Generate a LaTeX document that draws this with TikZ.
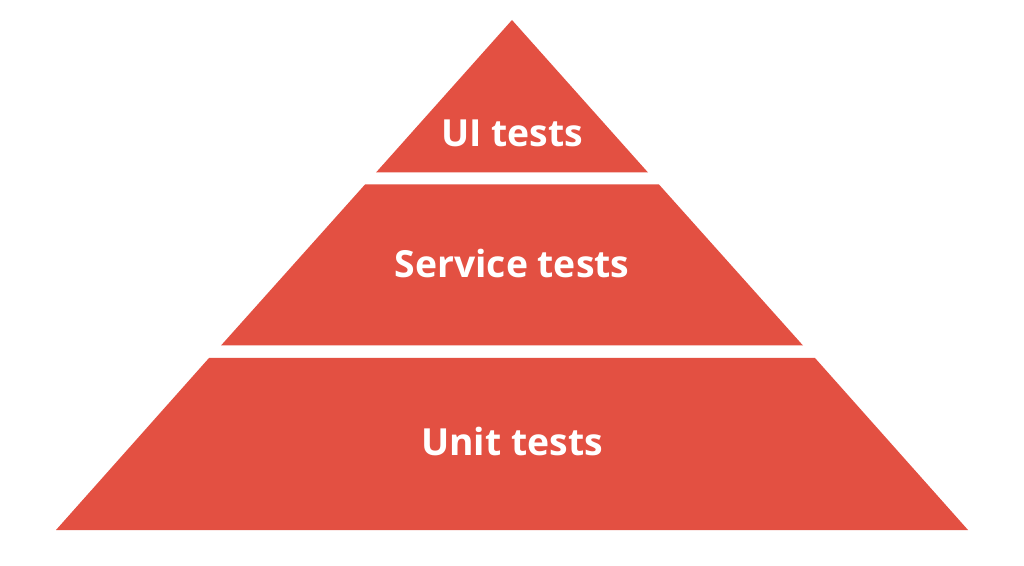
\documentclass[tikz,border=0pt]{standalone}
\usepackage{fontspec}
\setmainfont{Open Sans}
\usetikzlibrary{positioning,calc}
\definecolor{pyrred}{RGB}{227,80,66}

\begin{document}
\begin{tikzpicture}[
    x=0.75pt, y=-0.75pt,
    layer/.style={fill=pyrred, draw=none},
    label/.style={text=white, font=\fontsize{28}{34}\selectfont\bfseries, inner sep=0pt}
]
    \useasboundingbox (0,0) rectangle (1024,566);
    \fill[white] (0,0) rectangle (1024,566);

    % layers of the pyramid
    \fill[layer] (512,20) -- (648,172.5) -- (376,172.5) -- cycle;
    \fill[layer] (365,184.5) -- (659,184.5) -- (803,345.5) -- (221,345.5) -- cycle;
    \fill[layer] (209,358) -- (815,358) -- (968,530) -- (56,530) -- cycle;

    \node[label] (ui) at (512,133) {UI tests};
    \node[label] (service) at (512,264) {Service tests};
    \node[label] (unit) at (512,441) {Unit tests};
\end{tikzpicture}
\end{document}
